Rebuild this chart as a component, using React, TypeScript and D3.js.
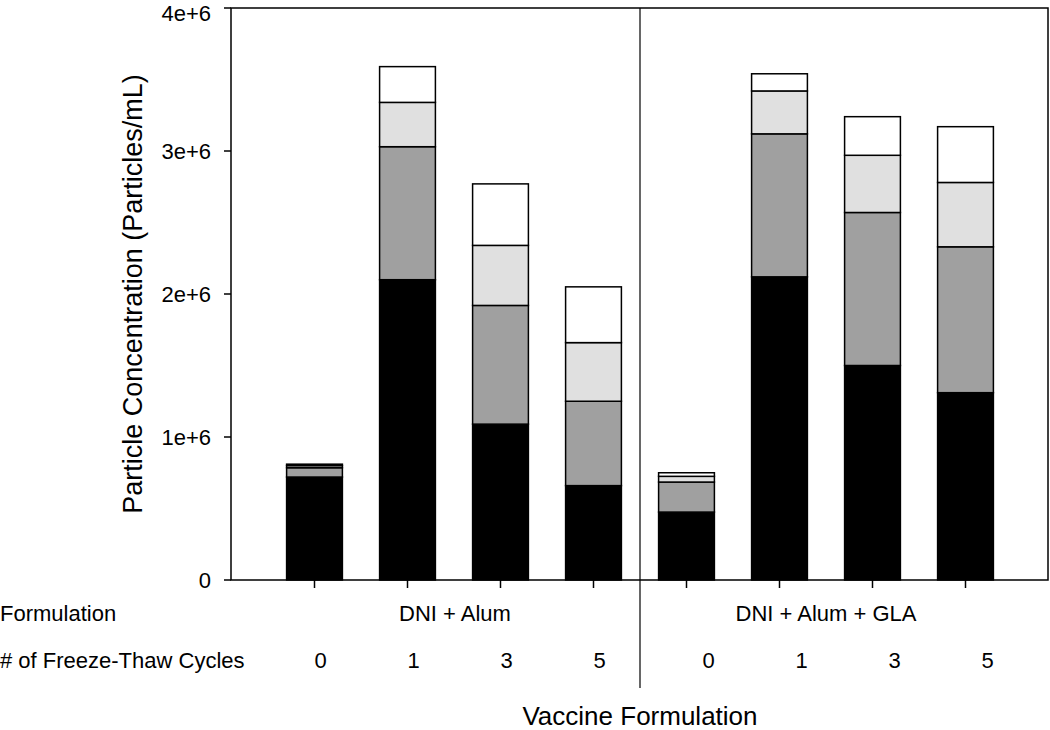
import React, { useEffect, useRef } from 'react';
import * as d3 from 'd3';

// bar order: formulation x freeze-thaw cycles
const formulations = ['DNI + Alum', 'DNI + Alum + GLA'];
const cycles = ['0', '1', '3', '5'];
// stacked segments (bottom to top), particles/mL
const blackSeg = [720000, 2100000, 1090000, 660000, 475000, 2120000, 1500000, 1310000];
const darkSeg = [65000, 930000, 830000, 590000, 210000, 1000000, 1070000, 1020000];
const lightSeg = [15000, 310000, 420000, 410000, 40000, 300000, 400000, 450000];
const whiteSeg = [10000, 250000, 430000, 390000, 25000, 120000, 270000, 390000];
const segColors = ['#000000', '#a0a0a0', '#e0e0e0', '#ffffff'];
const yTicks = [0, 1e6, 2e6, 3e6, 4e6];
const yTickLabels = ['0', '1e+6', '2e+6', '3e+6', '4e+6'];

const App = () => {
  const svgRef = useRef<SVGSVGElement>(null);

  useEffect(() => {
    const W = 1050;
    const H = 730;
    const left = 231, right = 1048, top = 8, bottom = 580;
    const font = '"Liberation Sans", Arial, sans-serif';

    const svg = d3.select(svgRef.current);
    svg.selectAll('*').remove();
    svg.attr('width', W).attr('height', H);

    const keys = formulations.flatMap(f => cycles.map(c => `${f}|${c}`));
    const rows = keys.map((k, i) => ({
      key: k,
      s0: blackSeg[i], s1: darkSeg[i], s2: lightSeg[i], s3: whiteSeg[i],
    }));

    const x = d3.scaleBand().domain(keys).range([268, 1012]).paddingInner(0.4).paddingOuter(0.2);
    const y = d3.scaleLinear().domain([0, 4e6]).range([bottom, top]);

    const stack = d3.stack<any>().keys(['s0', 's1', 's2', 's3']);
    const series = stack(rows);

    series.forEach((s, si) => {
      svg.append('g')
        .selectAll('rect')
        .data(s)
        .join('rect')
        .attr('x', d => x(d.data.key)!)
        .attr('width', x.bandwidth())
        .attr('y', d => y(d[1]))
        .attr('height', d => y(d[0]) - y(d[1]))
        .attr('fill', segColors[si])
        .attr('stroke', '#000')
        .attr('stroke-width', 1.5);
    });

    // frame
    svg.append('rect')
      .attr('x', left).attr('y', top)
      .attr('width', right - left).attr('height', bottom - top)
      .attr('fill', 'none').attr('stroke', '#000').attr('stroke-width', 1.5);

    // divider between formulations
    const divX = (x(keys[3])! + x.bandwidth() + x(keys[4])!) / 2;
    svg.append('line')
      .attr('x1', divX).attr('x2', divX)
      .attr('y1', top).attr('y2', 688)
      .attr('stroke', '#000').attr('stroke-width', 1.2);

    // y axis ticks
    const yAxis = svg.append('g');
    yTicks.forEach((t, i) => {
      yAxis.append('line')
        .attr('x1', left - 7).attr('x2', left)
        .attr('y1', y(t)).attr('y2', y(t))
        .attr('stroke', '#000').attr('stroke-width', 1.5);
      yAxis.append('text')
        .attr('x', left - 20).attr('y', Math.max(y(t), 13))
        .attr('dy', '0.36em')
        .attr('text-anchor', 'end')
        .attr('font-family', font).attr('font-size', 22)
        .text(yTickLabels[i]);
    });

    // x axis ticks
    keys.forEach(k => {
      const cx = x(k)! + x.bandwidth() / 2;
      svg.append('line')
        .attr('x1', cx).attr('x2', cx)
        .attr('y1', bottom).attr('y2', bottom + 8)
        .attr('stroke', '#000').attr('stroke-width', 1.5);
    });

    // row labels
    svg.append('text')
      .attr('x', 0).attr('y', 621)
      .attr('font-family', font).attr('font-size', 22)
      .text('Formulation');
    svg.append('text')
      .attr('x', 0).attr('y', 668)
      .attr('font-family', font).attr('font-size', 22)
      .text('# of Freeze-Thaw Cycles');

    formulations.forEach((f, fi) => {
      const a = x(`${f}|${cycles[1]}`)! + x.bandwidth() / 2;
      const b = x(`${f}|${cycles[2]}`)! + x.bandwidth() / 2;
      svg.append('text')
        .attr('x', (a + b) / 2 + (fi === 0 ? 1 : 0)).attr('y', 621)
        .attr('text-anchor', 'middle')
        .attr('font-family', font).attr('font-size', 22)
        .text(f);
      cycles.forEach(c => {
        const cx = x(`${f}|${c}`)! + x.bandwidth() / 2;
        svg.append('text')
          .attr('x', cx + (fi === 0 ? 6 : 22)).attr('y', 668)
          .attr('text-anchor', 'middle')
          .attr('font-family', font).attr('font-size', 22)
          .text(c);
      });
    });

    // axis titles
    svg.append('text')
      .attr('transform', `translate(142,${(top + bottom) / 2}) rotate(-90)`)
      .attr('text-anchor', 'middle')
      .attr('font-family', font).attr('font-size', 27)
      .text('Particle Concentration (Particles/mL)');

    svg.append('text')
      .attr('x', divX).attr('y', 725)
      .attr('text-anchor', 'middle')
      .attr('font-family', font).attr('font-size', 26)
      .text('Vaccine Formulation');
  }, []);

  return (
    <svg ref={svgRef} style={{ position: 'absolute', left: 0, top: 0, background: '#fff' }} />
  );
};

export default App;
